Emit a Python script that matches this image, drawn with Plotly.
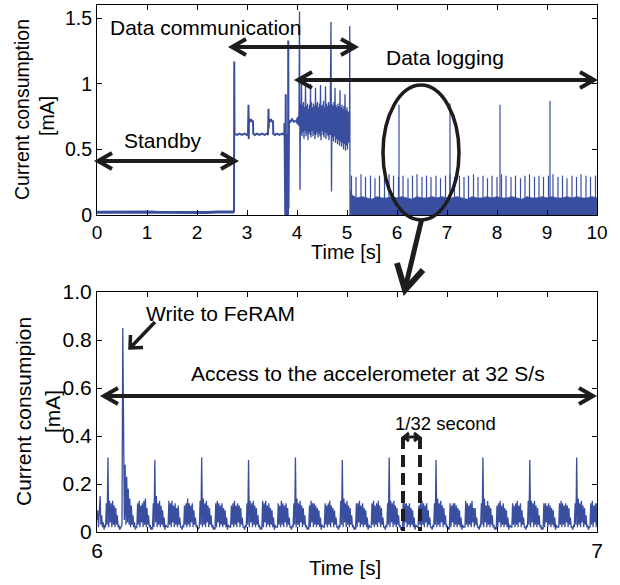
import plotly.graph_objects as go

BLUE = "#3a4ea0"
INK = "#1e1c1d"
FONT = "Liberation Sans, Arial, sans-serif"

# ---------------- top panel: 0-10 s ----------------
standby_t = [0.0, 0.2, 0.4, 0.6, 0.8, 1.0, 1.2, 1.4, 1.6, 1.8, 2.0, 2.2, 2.4, 2.6, 2.74]
standby_v = [0.021, 0.022, 0.020, 0.022, 0.021, 0.023, 0.021, 0.020, 0.022, 0.021, 0.022, 0.020, 0.022, 0.021, 0.022]

comm_t = [2.74, 2.745, 2.75, 2.80, 2.85, 2.90, 2.95, 3.00, 3.02, 3.03, 3.035, 3.04, 3.06, 3.08, 3.10, 3.12,
          3.125, 3.16, 3.20, 3.25, 3.30, 3.35, 3.40, 3.42, 3.43, 3.435, 3.44, 3.46, 3.48, 3.50, 3.52,
          3.525, 3.56, 3.60, 3.65, 3.70, 3.745, 3.75, 3.755, 3.76, 3.765, 3.77, 3.775, 3.78, 3.785,
          3.79, 3.80, 3.81, 3.815, 3.82, 3.825, 3.83, 3.835, 3.84, 3.87, 3.90, 3.94, 3.97]
comm_v = [0.02, 1.17, 0.62, 0.61, 0.62, 0.61, 0.62, 0.61, 0.62, 0.84, 0.58, 0.73, 0.71, 0.73, 0.71, 0.72,
          0.62, 0.61, 0.62, 0.61, 0.62, 0.61, 0.62, 0.61, 0.81, 0.66, 0.73, 0.71, 0.73, 0.71, 0.72,
          0.62, 0.61, 0.62, 0.61, 0.62, 0.61, 0.70, 0.00, 0.62, 0.00, 0.55, 0.92, 0.00, 0.45,
          0.00, 0.03, 0.00, 0.62, 0.00, 1.33, 0.05, 0.70, 0.72, 0.71, 0.73, 0.71, 0.72]

# dense part of the data communication phase, one sample every 0.01 s from 3.98 s
noise_t0 = 3.98
noise_dt = 0.01
noise_v = [0.72, 0.70, 0.74, 0.69, 0.75, 0.68, 0.80, 1.55, 0.19, 0.85,
           0.62, 1.00, 0.60, 0.84, 0.63, 0.86, 0.58, 0.82, 0.64, 0.98,
           0.60, 0.83, 0.62, 0.85, 0.57, 0.81, 0.63, 0.84, 0.61, 1.00,
           0.59, 0.86, 0.64, 0.82, 0.60, 0.85, 0.62, 0.83, 0.58, 0.97,
           0.61, 0.84, 0.63, 0.86, 0.59, 0.82, 0.62, 0.85, 0.60, 0.99,
           0.57, 0.83, 0.64, 0.84, 0.61, 0.87, 0.59, 0.82, 0.63, 0.98,
           0.58, 0.85, 0.62, 0.83, 0.60, 0.86, 0.57, 0.84, 0.61, 0.96,
           1.47, 0.18, 0.85, 0.59, 0.83, 0.56, 0.86, 0.60, 0.97, 0.55,
           0.84, 0.58, 0.82, 0.54, 0.85, 0.57, 0.83, 0.53, 0.95, 0.56,
           0.82, 0.52, 0.84, 0.55, 0.81, 0.50, 0.83, 0.54, 0.92, 0.49,
           0.80, 0.53, 0.82, 0.50, 0.79, 0.55, 0.78, 0.57]

tail_t = [5.05, 5.055, 5.06]
tail_v = [0.57, 1.44, 0.00]

# data logging: solid band plus periodic spikes
band_t = [5.062, 5.1, 5.2, 5.3, 5.4, 5.5, 5.6, 5.7, 5.8, 5.9, 6.0, 6.1, 6.2, 6.3, 6.4, 6.5, 6.6, 6.7,
          6.8, 6.9, 7.0, 7.1, 7.2, 7.3, 7.4, 7.5, 7.6, 7.7, 7.8, 7.9, 8.0, 8.1, 8.2, 8.3, 8.4, 8.5,
          8.6, 8.7, 8.8, 8.9, 9.0, 9.1, 9.2, 9.3, 9.4, 9.5, 9.6, 9.7, 9.8, 9.9, 10.0]
band_v = [0.19, 0.15, 0.13, 0.14, 0.13, 0.12, 0.14, 0.13, 0.13, 0.14, 0.13, 0.14, 0.13, 0.12, 0.14, 0.13, 0.13, 0.14,
          0.13, 0.14, 0.13, 0.13, 0.14, 0.13, 0.12, 0.14, 0.13, 0.13, 0.14, 0.13, 0.14, 0.13, 0.13, 0.14, 0.13, 0.12,
          0.14, 0.13, 0.13, 0.14, 0.13, 0.14, 0.13, 0.13, 0.14, 0.13, 0.14, 0.13, 0.13, 0.14, 0.13]

spike_t = [5.09, 5.18, 5.28, 5.37, 5.47, 5.56, 5.65, 5.75, 5.84, 5.93, 6.03, 6.12, 6.22, 6.31, 6.40, 6.50,
           6.59, 6.68, 6.78, 6.87, 6.97, 7.06, 7.15, 7.25, 7.34, 7.43, 7.53, 7.62, 7.72, 7.81, 7.90, 8.00,
           8.09, 8.18, 8.28, 8.37, 8.47, 8.56, 8.65, 8.75, 8.84, 8.93, 9.03, 9.12, 9.22, 9.31, 9.40, 9.50,
           9.59, 9.68, 9.78, 9.87, 9.97]
spike_v = [0.30, 0.29, 0.31, 0.29, 0.30, 0.28, 0.30, 0.29, 0.31, 0.30, 0.29, 0.30, 0.28, 0.30, 0.31, 0.29,
           0.30, 0.29, 0.30, 0.28, 0.30, 0.31, 0.29, 0.30, 0.29, 0.30, 0.31, 0.29, 0.30, 0.28, 0.30, 0.29,
           0.31, 0.30, 0.29, 0.30, 0.28, 0.30, 0.31, 0.29, 0.30, 0.29, 0.30, 0.31, 0.29, 0.30, 0.28, 0.30,
           0.29, 0.31, 0.30, 0.29, 0.30]

feram_t = [6.04, 7.06, 8.06, 9.06]
feram_v = [0.84, 0.85, 0.84, 0.87]

top_xticks = [0, 1, 2, 3, 4, 5, 6, 7, 8, 9, 10]
top_yticks = [0, 0.5, 1, 1.5]
top_ylabels = ["0", "0.5", "1", "1.5"]

# ---------------- bottom panel: 6-7 s, sampled at 640 S/s ----------------
zoom_t0 = 6.0
zoom_rate = 640
zoom_v = [
    0.05, 0.09, 0.02, 0.08, 0.15, 0.03, 0.07, 0.02, 0.04, 0.01, 0.03,
    0.02, 0.12, 0.03, 0.31, 0.02, 0.13, 0.04, 0.12, 0.02, 0.13, 0.03, 0.11, 0.02, 0.10, 0.03, 0.07, 0.02, 0.03, 0.01, 0.02,
    0.02, 0.03, 0.85, 0.33, 0.05, 0.28, 0.03, 0.23, 0.04, 0.18, 0.03, 0.14, 0.02, 0.11, 0.03, 0.07, 0.02, 0.04, 0.01, 0.02,
    0.02, 0.12, 0.03, 0.13, 0.02, 0.11, 0.04, 0.12, 0.02, 0.13, 0.03, 0.14, 0.02, 0.10, 0.03, 0.07, 0.02, 0.03, 0.01, 0.02,
    0.01, 0.12, 0.02, 0.30, 0.04, 0.15, 0.02, 0.12, 0.03, 0.13, 0.02, 0.11, 0.03, 0.09, 0.02, 0.06, 0.01, 0.03, 0.02, 0.02,
    0.02, 0.13, 0.03, 0.12, 0.02, 0.13, 0.04, 0.11, 0.02, 0.12, 0.03, 0.10, 0.02, 0.11, 0.03, 0.06, 0.02, 0.02, 0.01, 0.03,
    0.02, 0.11, 0.03, 0.12, 0.02, 0.14, 0.03, 0.12, 0.02, 0.11, 0.04, 0.12, 0.02, 0.09, 0.03, 0.06, 0.02, 0.03, 0.01, 0.02,
    0.02, 0.13, 0.03, 0.31, 0.02, 0.14, 0.03, 0.12, 0.02, 0.13, 0.04, 0.11, 0.02, 0.10, 0.03, 0.07, 0.02, 0.03, 0.01, 0.02,
    0.01, 0.12, 0.02, 0.13, 0.04, 0.12, 0.02, 0.11, 0.03, 0.12, 0.02, 0.10, 0.03, 0.09, 0.02, 0.06, 0.01, 0.03, 0.02, 0.02,
    0.02, 0.11, 0.03, 0.12, 0.02, 0.13, 0.03, 0.11, 0.02, 0.12, 0.04, 0.11, 0.02, 0.10, 0.03, 0.06, 0.02, 0.02, 0.01, 0.03,
    0.02, 0.12, 0.03, 0.30, 0.02, 0.13, 0.04, 0.12, 0.02, 0.13, 0.03, 0.11, 0.02, 0.10, 0.03, 0.07, 0.02, 0.03, 0.01, 0.02,
    0.01, 0.13, 0.02, 0.12, 0.04, 0.13, 0.02, 0.11, 0.03, 0.12, 0.02, 0.10, 0.03, 0.09, 0.02, 0.06, 0.01, 0.03, 0.02, 0.02,
    0.02, 0.12, 0.03, 0.11, 0.02, 0.13, 0.03, 0.12, 0.02, 0.11, 0.04, 0.12, 0.02, 0.10, 0.03, 0.06, 0.02, 0.02, 0.01, 0.03,
    0.02, 0.12, 0.03, 0.31, 0.02, 0.14, 0.03, 0.12, 0.02, 0.13, 0.04, 0.11, 0.02, 0.10, 0.03, 0.07, 0.02, 0.03, 0.01, 0.02,
    0.01, 0.11, 0.02, 0.13, 0.04, 0.12, 0.02, 0.12, 0.03, 0.11, 0.02, 0.10, 0.03, 0.09, 0.02, 0.06, 0.01, 0.03, 0.02, 0.02,
    0.02, 0.12, 0.03, 0.11, 0.02, 0.12, 0.03, 0.13, 0.02, 0.11, 0.04, 0.10, 0.02, 0.09, 0.03, 0.06, 0.02, 0.02, 0.01, 0.03,
    0.02, 0.13, 0.03, 0.30, 0.02, 0.14, 0.04, 0.12, 0.02, 0.13, 0.03, 0.11, 0.02, 0.10, 0.03, 0.07, 0.02, 0.03, 0.01, 0.02,
    0.01, 0.12, 0.02, 0.12, 0.04, 0.13, 0.02, 0.11, 0.03, 0.12, 0.02, 0.10, 0.03, 0.09, 0.02, 0.06, 0.01, 0.03, 0.02, 0.02,
    0.02, 0.12, 0.03, 0.13, 0.02, 0.11, 0.03, 0.12, 0.02, 0.13, 0.04, 0.11, 0.02, 0.10, 0.03, 0.06, 0.02, 0.02, 0.01, 0.03,
    0.02, 0.12, 0.03, 0.31, 0.02, 0.13, 0.04, 0.12, 0.02, 0.13, 0.03, 0.11, 0.02, 0.10, 0.03, 0.07, 0.02, 0.03, 0.01, 0.02,
    0.01, 0.13, 0.02, 0.12, 0.04, 0.12, 0.02, 0.11, 0.03, 0.12, 0.02, 0.10, 0.03, 0.09, 0.02, 0.06, 0.01, 0.03, 0.02, 0.02,
    0.02, 0.11, 0.03, 0.12, 0.02, 0.13, 0.03, 0.12, 0.02, 0.11, 0.04, 0.12, 0.02, 0.09, 0.03, 0.06, 0.02, 0.02, 0.01, 0.03,
    0.02, 0.12, 0.03, 0.30, 0.02, 0.14, 0.03, 0.12, 0.02, 0.13, 0.04, 0.11, 0.02, 0.10, 0.03, 0.07, 0.02, 0.03, 0.01, 0.02,
    0.01, 0.12, 0.02, 0.11, 0.04, 0.12, 0.02, 0.12, 0.03, 0.11, 0.02, 0.10, 0.03, 0.09, 0.02, 0.06, 0.01, 0.03, 0.02, 0.02,
    0.02, 0.13, 0.03, 0.12, 0.02, 0.11, 0.03, 0.12, 0.02, 0.13, 0.04, 0.10, 0.02, 0.10, 0.03, 0.06, 0.02, 0.02, 0.01, 0.03,
    0.02, 0.12, 0.03, 0.31, 0.02, 0.14, 0.04, 0.11, 0.02, 0.13, 0.03, 0.11, 0.02, 0.10, 0.03, 0.07, 0.02, 0.03, 0.01, 0.02,
    0.01, 0.11, 0.02, 0.12, 0.04, 0.13, 0.02, 0.11, 0.03, 0.12, 0.02, 0.10, 0.03, 0.09, 0.02, 0.06, 0.01, 0.03, 0.02, 0.02,
    0.02, 0.12, 0.03, 0.11, 0.02, 0.12, 0.03, 0.13, 0.02, 0.11, 0.04, 0.12, 0.02, 0.09, 0.03, 0.06, 0.02, 0.02, 0.01, 0.03,
    0.02, 0.13, 0.03, 0.30, 0.02, 0.13, 0.04, 0.12, 0.02, 0.13, 0.03, 0.11, 0.02, 0.10, 0.03, 0.07, 0.02, 0.03, 0.01, 0.02,
    0.01, 0.12, 0.02, 0.12, 0.04, 0.11, 0.02, 0.12, 0.03, 0.11, 0.02, 0.10, 0.03, 0.09, 0.02, 0.06, 0.01, 0.03, 0.02, 0.02,
    0.02, 0.12, 0.03, 0.13, 0.02, 0.12, 0.03, 0.11, 0.02, 0.12, 0.04, 0.11, 0.02, 0.10, 0.03, 0.06, 0.02, 0.02, 0.01, 0.03,
    0.02, 0.12, 0.03, 0.31, 0.02, 0.14, 0.03, 0.12, 0.02, 0.13, 0.04, 0.11, 0.02, 0.10, 0.03, 0.07, 0.02, 0.03, 0.01, 0.02,
    0.02, 0.12, 0.03, 0.13, 0.02, 0.11, 0.04, 0.12, 0.02, 0.12,
]

bot_xticks = [6.0, 6.1, 6.2, 6.3, 6.4, 6.5, 6.6, 6.7, 6.8, 6.9, 7.0]
bot_xlabels = ["6", "", "", "", "", "", "", "", "", "", "7"]
bot_yticks = [0, 0.2, 0.4, 0.6, 0.8, 1.0]
bot_ylabels = ["0", "0.2", "0.4", "0.6", "0.8", "1.0"]

# ---------------- build traces ----------------
fig = go.Figure()
line_kw = dict(mode="lines", hoverinfo="skip", showlegend=False)

fig.add_trace(go.Scatter(x=standby_t, y=standby_v, line=dict(color=BLUE, width=3), xaxis="x", yaxis="y", **line_kw))
fig.add_trace(go.Scatter(x=comm_t, y=comm_v, line=dict(color=BLUE, width=2), xaxis="x", yaxis="y", **line_kw))

noise_t = [noise_t0 + noise_dt * i for i in range(len(noise_v))]
fig.add_trace(go.Scatter(x=[comm_t[-1]] + noise_t + tail_t, y=[comm_v[-1]] + noise_v + tail_v,
                         line=dict(color=BLUE, width=1.3), xaxis="x", yaxis="y", **line_kw))

fig.add_trace(go.Scatter(x=band_t, y=band_v, fill="tozeroy", fillcolor=BLUE,
                         line=dict(color=BLUE, width=0.8), xaxis="x", yaxis="y", **line_kw))

sx, sy = [], []
for t, v in zip(spike_t + feram_t, spike_v + feram_v):
    sx += [t, t, None]
    sy += [0.1, v, None]
fig.add_trace(go.Scatter(x=sx, y=sy, line=dict(color=BLUE, width=1.2), xaxis="x", yaxis="y", **line_kw))

zoom_t = [zoom_t0 + i / zoom_rate for i in range(len(zoom_v))]
fig.add_trace(go.Scatter(x=zoom_t, y=zoom_v, line=dict(color=BLUE, width=1.3), xaxis="x2", yaxis="y2", **line_kw))

# ---------------- layout ----------------
W, H = 620, 585


def X(px):
    return px / W


def Y(py):
    return 1 - py / H


axis_common = dict(showline=True, linecolor="black", linewidth=1, mirror="ticks", ticks="inside",
                   ticklen=5, tickcolor="black", tickwidth=1, showgrid=False, zeroline=False,
                   automargin=False)

fig.update_layout(
    width=W, height=H, margin=dict(l=0, r=0, t=0, b=0),
    paper_bgcolor="white", plot_bgcolor="white",
    font=dict(family=FONT, color="black"),
    xaxis=dict(domain=[X(97), X(597)], range=[0, 10], tickvals=top_xticks, anchor="y",
               tickfont=dict(size=19), **axis_common),
    yaxis=dict(domain=[Y(215), Y(5)], range=[0, 1.6], tickvals=top_yticks, ticktext=top_ylabels,
               anchor="x", tickfont=dict(size=19.5), **axis_common),
    xaxis2=dict(domain=[X(97), X(597)], range=[6, 7], tickvals=bot_xticks, ticktext=bot_xlabels,
                anchor="y2", tickfont=dict(size=21), **axis_common),
    yaxis2=dict(domain=[Y(532), Y(292)], range=[0, 1], tickvals=bot_yticks, ticktext=bot_ylabels,
                anchor="x2", tickfont=dict(size=21), **axis_common),
)


def label(text, px, py, size, angle=0):
    return dict(text=text, x=X(px), y=Y(py), xref="paper", yref="paper", showarrow=False,
                xanchor="center", yanchor="middle", textangle=angle,
                font=dict(size=size, color="black", family=FONT))


annotations = [
    label("Current consumption", 22, 110, 19.5, -90),
    label("[mA]", 47, 116, 19.5, -90),
    label("Time [s]", 346, 252, 20),
    label("Current consumpion", 23, 412, 21, -90),
    label("[mA]", 52, 412, 21, -90),
    label("Time [s]", 345, 567, 20.5),
    label("Standby", 163, 140, 21),
    label("Data communication", 205, 27, 21),
    label("Data logging", 445, 58, 21),
    label("Write to FeRAM", 220, 313, 21),
    label("Access to the accelerometer at 32 S/s", 368, 373, 21),
    label("1/32 second", 445, 423, 18.5),
]


def path_of(polylines):
    parts = []
    for poly in polylines:
        parts.append("M" + " L".join(f"{X(x):.5f},{Y(y):.5f}" for x, y in poly))
    return " ".join(parts)


def double_arrow(x0, x1, y, head=14, half=8, width=4):
    return dict(type="path", xref="paper", yref="paper", line=dict(color=INK, width=width),
                path=path_of([[(x0, y), (x1, y)],
                              [(x0 + head, y - half), (x0, y), (x0 + head, y + half)],
                              [(x1 - head, y - half), (x1, y), (x1 - head, y + half)]]))


shapes = [
    double_arrow(98, 235, 161),
    double_arrow(232, 355, 47),
    double_arrow(298, 594, 80),
    double_arrow(104, 593, 396),
    double_arrow(404, 419, 437, head=5, half=4, width=3),
    dict(type="line", xref="paper", yref="paper", x0=X(403), x1=X(403), y0=Y(437), y1=Y(531),
         line=dict(color=INK, width=4, dash="12px,6px")),
    dict(type="line", xref="paper", yref="paper", x0=X(420), x1=X(420), y0=Y(437), y1=Y(531),
         line=dict(color=INK, width=4, dash="12px,6px")),
    dict(type="circle", xref="paper", yref="paper", x0=X(383), x1=X(459), y0=Y(220), y1=Y(85),
         line=dict(color=INK, width=3.5)),
    dict(type="path", xref="paper", yref="paper", line=dict(color=INK, width=5),
         path=path_of([[(421.5, 220), (405, 289)]])),
    dict(type="path", xref="paper", yref="paper", line=dict(color=INK, width=6),
         path=path_of([[(397, 263), (405, 290), (423, 270)]])),
    dict(type="path", xref="paper", yref="paper", line=dict(color=INK, width=3.5),
         path=path_of([[(155, 322), (131, 347)], [(130.5, 335), (130, 348), (143, 347.5)]])),
]

fig.update_layout(annotations=annotations, shapes=shapes)

fig.write_html("out.html", config={"displayModeBar": False},
               post_script="document.body.style.margin='0';")
